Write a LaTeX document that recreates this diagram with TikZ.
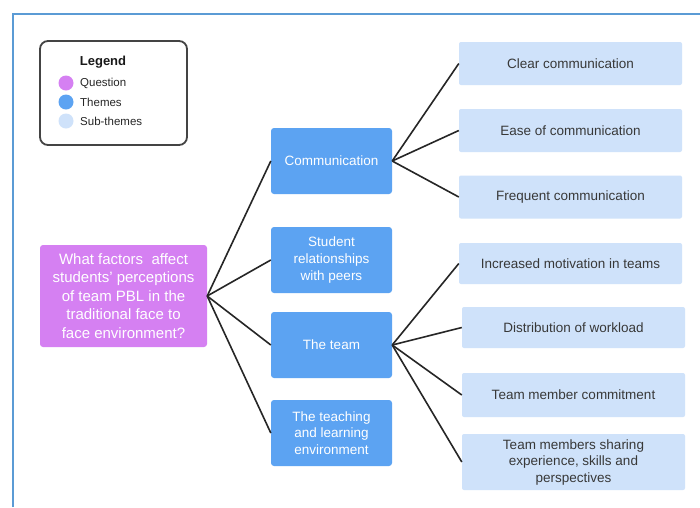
\documentclass[tikz,border=0pt]{standalone}
\usepackage{fontspec}
\setmainfont{Liberation Sans}
\definecolor{qcol}{HTML}{D580F2}
\definecolor{tcol}{HTML}{5CA3F2}
\definecolor{scol}{HTML}{CFE2FA}
\definecolor{stext}{HTML}{383838}
\definecolor{framecol}{HTML}{5B9BD5}
\definecolor{linkcol}{HTML}{262626}
\definecolor{legborder}{HTML}{444444}
\tikzset{
  qbox/.style={fill=qcol, rounded corners=3pt, text=white, align=center,
    font=\fontsize{15}{18.5}\selectfont, minimum width=167pt, minimum height=102pt, inner sep=0pt},
  tbox/.style={fill=tcol, rounded corners=3pt, text=white, align=center,
    font=\fontsize{13.5}{16.5}\selectfont, minimum width=121pt, minimum height=66pt, inner sep=0pt},
  sbox/.style={fill=scol, rounded corners=2pt, text=stext, align=center,
    font=\fontsize{13.5}{16.5}\selectfont, minimum width=223pt, minimum height=43pt, inner sep=0pt},
  link/.style={draw=linkcol, line width=1.6pt},
  legdot/.style={circle, minimum size=15pt, inner sep=0pt},
  legtext/.style={anchor=west, inner sep=0pt, text=black!85, font=\fontsize{11.5}{13}\selectfont}
}
\begin{document}
\begin{tikzpicture}[x=1pt, y=-1pt]
\useasboundingbox[fill=white] (0,0) rectangle (700,507);
% outer frame
\draw[framecol, line width=2pt] (13,507) -- (13,14) -- (700,14);
% legend
\node[draw=legborder, line width=1.8pt, rounded corners=8pt, minimum width=147pt, minimum height=104pt] (legend) at (113.5,93) {};
\node[font=\bfseries\fontsize{13}{15}\selectfont, text=black!90] (legtitle) at (103,62) {Legend};
\node[legdot, fill=qcol] (d1) at (66,83) {};
\node[legdot, fill=tcol] (d2) at (66,102) {};
\node[legdot, fill=scol] (d3) at (66,121) {};
\node[legtext] (l1) at (80,83) {Question};
\node[legtext] (l2) at (80,102) {Themes};
\node[legtext] (l3) at (80,121) {Sub-themes};
% question
\node[qbox] (q) at (123.5,296) {What factors\ \ affect\\students' perceptions\\of team PBL in the\\traditional face to\\face environment?};
% themes
\node[tbox] (comm) at (331.5,161) {Communication};
\node[tbox] (rel) at (331.5,260) {Student\\relationships\\with peers};
\node[tbox] (team) at (331.5,345) {The team};
\node[tbox] (teach) at (331.5,433) {The teaching\\and learning\\environment};
% sub-themes
\node[sbox] (s1) at (570.5,63.5) {Clear communication};
\node[sbox] (s2) at (570.5,130.5) {Ease of communication};
\node[sbox] (s3) at (570.5,197) {Frequent communication};
\node[sbox, minimum height=41pt] (s4) at (570.5,263.5) {Increased motivation in teams};
\node[sbox, minimum height=41pt] (s5) at (573.5,327.5) {Distribution of workload};
\node[sbox, minimum height=44pt] (s6) at (573.5,395) {Team member commitment};
\node[sbox, minimum height=56pt] (s7) at (573.5,462) {Team members sharing\\experience, skills and\\perspectives};
% connectors
\draw[link] (q.east) -- (comm.west);
\draw[link] (q.east) -- (rel.west);
\draw[link] (q.east) -- (team.west);
\draw[link] (q.east) -- (teach.west);
\draw[link] (comm.east) -- (s1.west);
\draw[link] (comm.east) -- (s2.west);
\draw[link] (comm.east) -- (s3.west);
\draw[link] (team.east) -- (s4.west);
\draw[link] (team.east) -- (s5.west);
\draw[link] (team.east) -- (s6.west);
\draw[link] (team.east) -- (s7.west);
\end{tikzpicture}
\end{document}
